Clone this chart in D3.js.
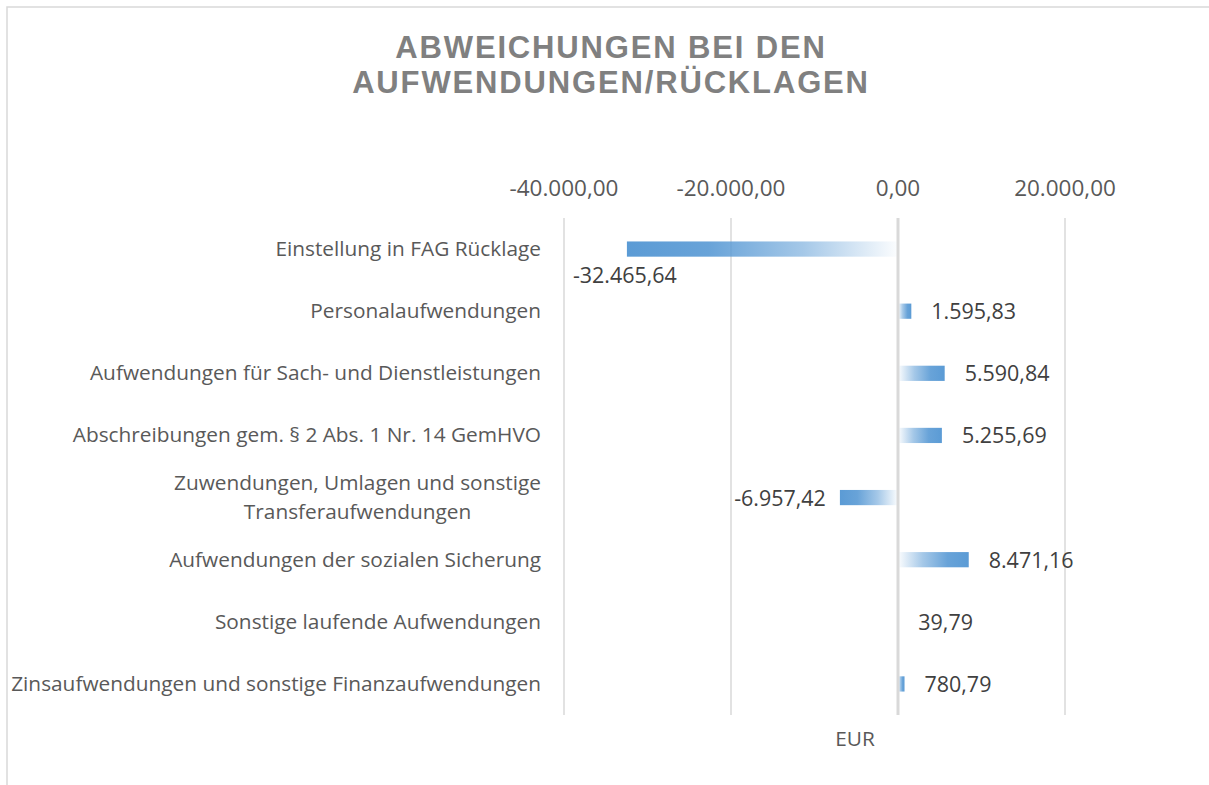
<!DOCTYPE html>
<html><head><meta charset="utf-8">
<script src="https://cdn.jsdelivr.net/npm/d3@7"></script>
<style>
html,body{margin:0;padding:0;background:#fff;}
svg{display:block;}
</style></head>
<body>
<svg id="chart" width="1209" height="785"></svg>
<script>
const title = ["ABWEICHUNGEN BEI DEN", "AUFWENDUNGEN/RÜCKLAGEN"];
const categories = [
  ["Einstellung in FAG Rücklage"],
  ["Personalaufwendungen"],
  ["Aufwendungen für Sach- und Dienstleistungen"],
  ["Abschreibungen gem. § 2 Abs. 1 Nr. 14 GemHVO"],
  ["Zuwendungen, Umlagen und sonstige", "Transferaufwendungen"],
  ["Aufwendungen der sozialen Sicherung"],
  ["Sonstige laufende Aufwendungen"],
  ["Zinsaufwendungen und sonstige Finanzaufwendungen"]
];
const values = [-32465.64, 1595.83, 5590.84, 5255.69, -6957.42, 8471.16, 39.79, 780.79];
const tickValues = [-40000, -20000, 0, 20000];
const axisTitle = "EUR";

const fmt = v => {
  const s = Math.abs(v).toFixed(2).split(".");
  const int = s[0].replace(/\B(?=(\d{3})+(?!\d))/g, ".");
  return (v < 0 ? "-" : "") + int + "," + s[1];
};

const FONT = "'Open Sans', 'Noto Sans', sans-serif";
const svg = d3.select("#chart");

// size a font so a sample string has a given width
function fitSize(sample, width) {
  const t = svg.append("text").attr("font-family", FONT).attr("font-size", 20).text(sample);
  const w = t.node().getComputedTextLength();
  t.remove();
  return 20 * width / w;
}
const tickSize = fitSize("-40.000,00", 109);
const valSize = fitSize("-32.465,64", 104);
const catSize = fitSize("Zinsaufwendungen und sonstige Finanzaufwendungen", 530);

const keys = categories.map((c, i) => "c" + i);
const x = d3.scaleLinear().domain([-40000, 20000]).range([564, 1065]);
const y = d3.scaleBand().domain(keys).range([218, 715]).padding(0);
const barH = y.bandwidth() * 0.245;

// outer border
svg.append("rect").attr("x", 7).attr("y", 7).attr("width", 1300).attr("height", 900)
  .attr("fill", "none").attr("stroke", "#d9d9d9").attr("stroke-width", 1.5);

// title
svg.append("g").selectAll("text").data(title).join("text")
  .attr("x", 611).attr("y", (d, i) => 58 + i * 35)
  .attr("text-anchor", "middle")
  .attr("font-family", "Liberation Sans, Arial, sans-serif")
  .attr("font-weight", "bold").attr("font-size", 31)
  .attr("letter-spacing", 1.85)
  .attr("fill", "#808080").text(d => d);

// gradients
const defs = svg.append("defs");
function grad(id, x1, x2) {
  const g = defs.append("linearGradient").attr("id", id).attr("x1", x1).attr("x2", x2).attr("y1", 0).attr("y2", 0);
  [[0, 0.02], [35, 0.55], [70, 0.92], [100, 1]].forEach(([o, op]) =>
    g.append("stop").attr("offset", o + "%").attr("stop-color", "#5b9bd5").attr("stop-opacity", op));
}
grad("gpos", 0, 1);
grad("gneg", 1, 0);

// gridlines
const [y0, y1] = y.range();
svg.append("g").selectAll("line").data(tickValues.filter(t => t !== 0)).join("line")
  .attr("x1", d => x(d)).attr("x2", d => x(d)).attr("y1", y0).attr("y2", y1)
  .attr("stroke", "#d9d9d9").attr("stroke-width", 1.5);

// tick labels
svg.append("g").selectAll("text").data(tickValues).join("text")
  .attr("x", d => x(d)).attr("y", 196).attr("text-anchor", "middle")
  .attr("font-family", FONT).attr("font-size", tickSize)
  .attr("fill", "#595959").text(d => fmt(d));

// bars
svg.append("g").selectAll("rect").data(values).join("rect")
  .attr("x", d => Math.min(x(0), x(d)))
  .attr("width", d => Math.abs(x(d) - x(0)))
  .attr("y", (d, i) => y(keys[i]) + (y.bandwidth() - barH) / 2)
  .attr("height", barH)
  .attr("fill", d => d < 0 ? "url(#gneg)" : "url(#gpos)");

// zero line
svg.append("line").attr("x1", x(0)).attr("x2", x(0)).attr("y1", y0).attr("y2", y1)
  .attr("stroke", "#d9d9d9").attr("stroke-width", 3);

// category labels
const catG = svg.append("g");
categories.forEach((lines, i) => {
  const cy = y(keys[i]) + y.bandwidth() / 2;
  const t = catG.append("text")
    .attr("font-family", FONT).attr("font-size", catSize)
    .attr("fill", "#595959");
  if (lines.length === 1) {
    t.attr("x", 541).attr("y", cy + 7).attr("text-anchor", "end").text(lines[0]);
  } else {
    t.attr("text-anchor", "middle");
    const lh = 29;
    const spans = t.selectAll("tspan").data(lines).join("tspan")
      .attr("y", (d, j) => cy + 7 + (j - (lines.length - 1) / 2) * lh)
      .text(d => d);
    const widths = [];
    spans.each(function () { widths.push(this.getComputedTextLength()); });
    spans.attr("x", 541 - d3.max(widths) / 2);
  }
});

// value labels
svg.append("g").selectAll("text").data(values).join("text")
  .attr("font-family", FONT).attr("font-size", valSize)
  .attr("fill", "#404040")
  .attr("x", (d, i) => {
    if (i === 0) return x(d) - 54;
    return d < 0 ? x(d) - 14 : x(d) + 20;
  })
  .attr("y", (d, i) => {
    const cy = y(keys[i]) + y.bandwidth() / 2;
    return i === 0 ? cy + 34 : cy + 8;
  })
  .attr("text-anchor", (d, i) => (i === 0 || d >= 0) ? "start" : "end")
  .text(d => fmt(d));

// axis title
svg.append("text").attr("x", 855).attr("y", 746).attr("text-anchor", "middle")
  .attr("font-family", FONT).attr("font-size", catSize)
  .attr("fill", "#595959").text(axisTitle);
</script>
</body></html>
